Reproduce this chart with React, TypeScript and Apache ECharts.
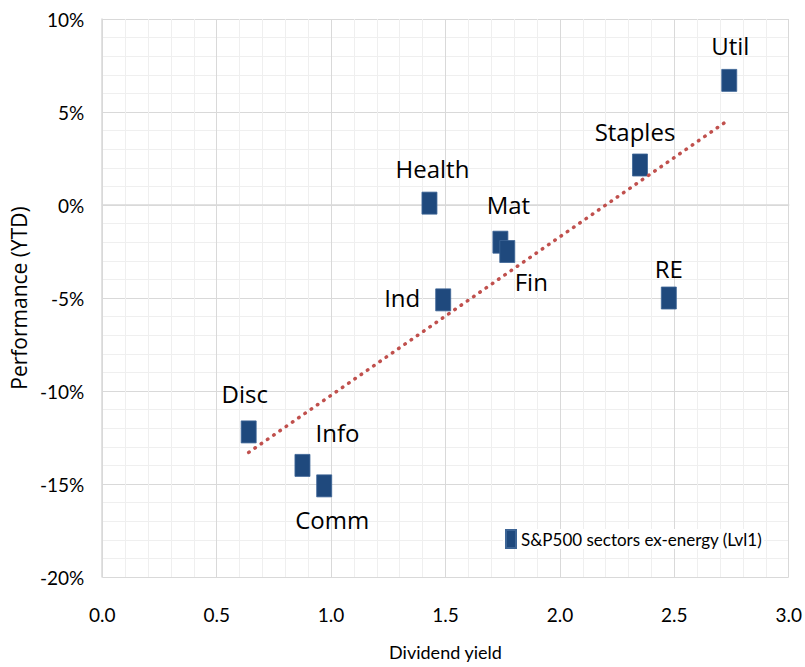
import React, { useEffect, useRef } from "react";
import * as echarts from "echarts";

const seriesName = "S&P500 sectors ex-energy (Lvl1)";
const sectors = ["Disc", "Info", "Comm", "Health", "Mat", "Fin", "Ind", "Staples", "Util", "RE"];
const dividendYield = [0.64, 0.875, 0.97, 1.43, 1.74, 1.77, 1.49, 2.35, 2.74, 2.476];
const performance = [-12.2, -14.0, -15.1, 0.1, -2.0, -2.5, -5.1, 2.15, 6.7, -5.0];
const trendX = [0.64, 2.74];
const trendY = [-13.3, 4.6];
const xAxisTitle = "Dividend yield";
const yAxisTitle = "Performance (YTD)";

const labelOffsets: Record<string, [number, number]> = {
  Disc: [-4, -38],
  Info: [35, -33],
  Comm: [8, 34],
  Health: [3, -35],
  Mat: [8, -38],
  Fin: [24, 30],
  Ind: [-41, -2],
  Staples: [-5, -34],
  Util: [1, -35],
  RE: [0, -30],
};

const tickFont = "Lato, sans-serif";

export default function App() {
  const ref = useRef<HTMLDivElement>(null);
  useEffect(() => {
    if (!ref.current) return;
    const chart = echarts.init(ref.current, undefined, { renderer: "svg" });
    const pointData = sectors.map((name, i) => ({
      name,
      value: [dividendYield[i], performance[i]],
      label: { offset: labelOffsets[name] },
    }));
    chart.setOption({
      animation: false,
      backgroundColor: "#ffffff",
      grid: { left: 96, right: 15, top: 19, bottom: 90 },
      legend: {
        data: [seriesName],
        left: 503,
        top: 529,
        icon: "rect",
        itemWidth: 10,
        itemHeight: 18,
        backgroundColor: "#ffffff",
        padding: [0, 2, 0, 2],
        textStyle: { fontFamily: tickFont, fontSize: 17, color: "#000" },
      },
      xAxis: {
        type: "value",
        min: 0,
        max: 3,
        interval: 0.5,
        name: xAxisTitle,
        nameLocation: "middle",
        nameGap: 66,
        nameTextStyle: { fontFamily: tickFont, fontSize: 18, color: "#000" },
        axisLine: { show: true, lineStyle: { color: "#d9d9d9", width: 1.5 } },
        axisTick: { show: false },
        axisLabel: {
          margin: 28,
          fontFamily: tickFont,
          fontSize: 19,
          color: "#000",
          formatter: (v: number) => v.toFixed(1),
        },
        splitLine: { show: true, lineStyle: { color: "#d9d9d9", width: 1 } },
        minorTick: { show: false, splitNumber: 5 },
        minorSplitLine: { show: true, lineStyle: { color: "#efefef", width: 1 } },
      },
      yAxis: {
        type: "value",
        min: -20,
        max: 10,
        interval: 5,
        name: yAxisTitle,
        nameLocation: "middle",
        nameGap: 61,
        nameTextStyle: { fontFamily: "'Open Sans', sans-serif", fontSize: 21, color: "#000" },
        axisLine: { show: true, lineStyle: { color: "#d9d9d9", width: 1.5 } },
        axisTick: { show: false },
        axisLabel: {
          margin: 18,
          fontFamily: tickFont,
          fontSize: 19,
          color: "#000",
          formatter: (v: number) => `${v}%`,
        },
        splitLine: { show: true, lineStyle: { color: "#d9d9d9", width: 1 } },
        minorTick: { show: false, splitNumber: 5 },
        minorSplitLine: { show: true, lineStyle: { color: "#efefef", width: 1 } },
      },
      series: [
        {
          name: seriesName,
          type: "scatter",
          symbol: "rect",
          symbolSize: [15, 22],
          itemStyle: { color: "#1F497D", opacity: 1, borderColor: "#3d6596", borderWidth: 0.8 },
          label: {
            show: true,
            position: "inside",
            formatter: (p: any) => p.name,
            fontFamily: "'Open Sans', sans-serif",
            fontSize: 24,
            color: "#000",
          },
          data: pointData,
          z: 2,
        },
        {
          name: "trend",
          type: "line",
          data: trendX.map((x, i) => [x, trendY[i]]),
          symbol: "none",
          silent: true,
          lineStyle: { color: "#C0504D", width: 3.5, type: [0.5, 7.1], cap: "round" },
          z: 3,
        },
      ],
    });
    return () => chart.dispose();
  }, []);
  return (
    <div
      ref={ref}
      style={{ position: "fixed", left: 0, top: 0, width: 805, height: 667 }}
    />
  );
}
